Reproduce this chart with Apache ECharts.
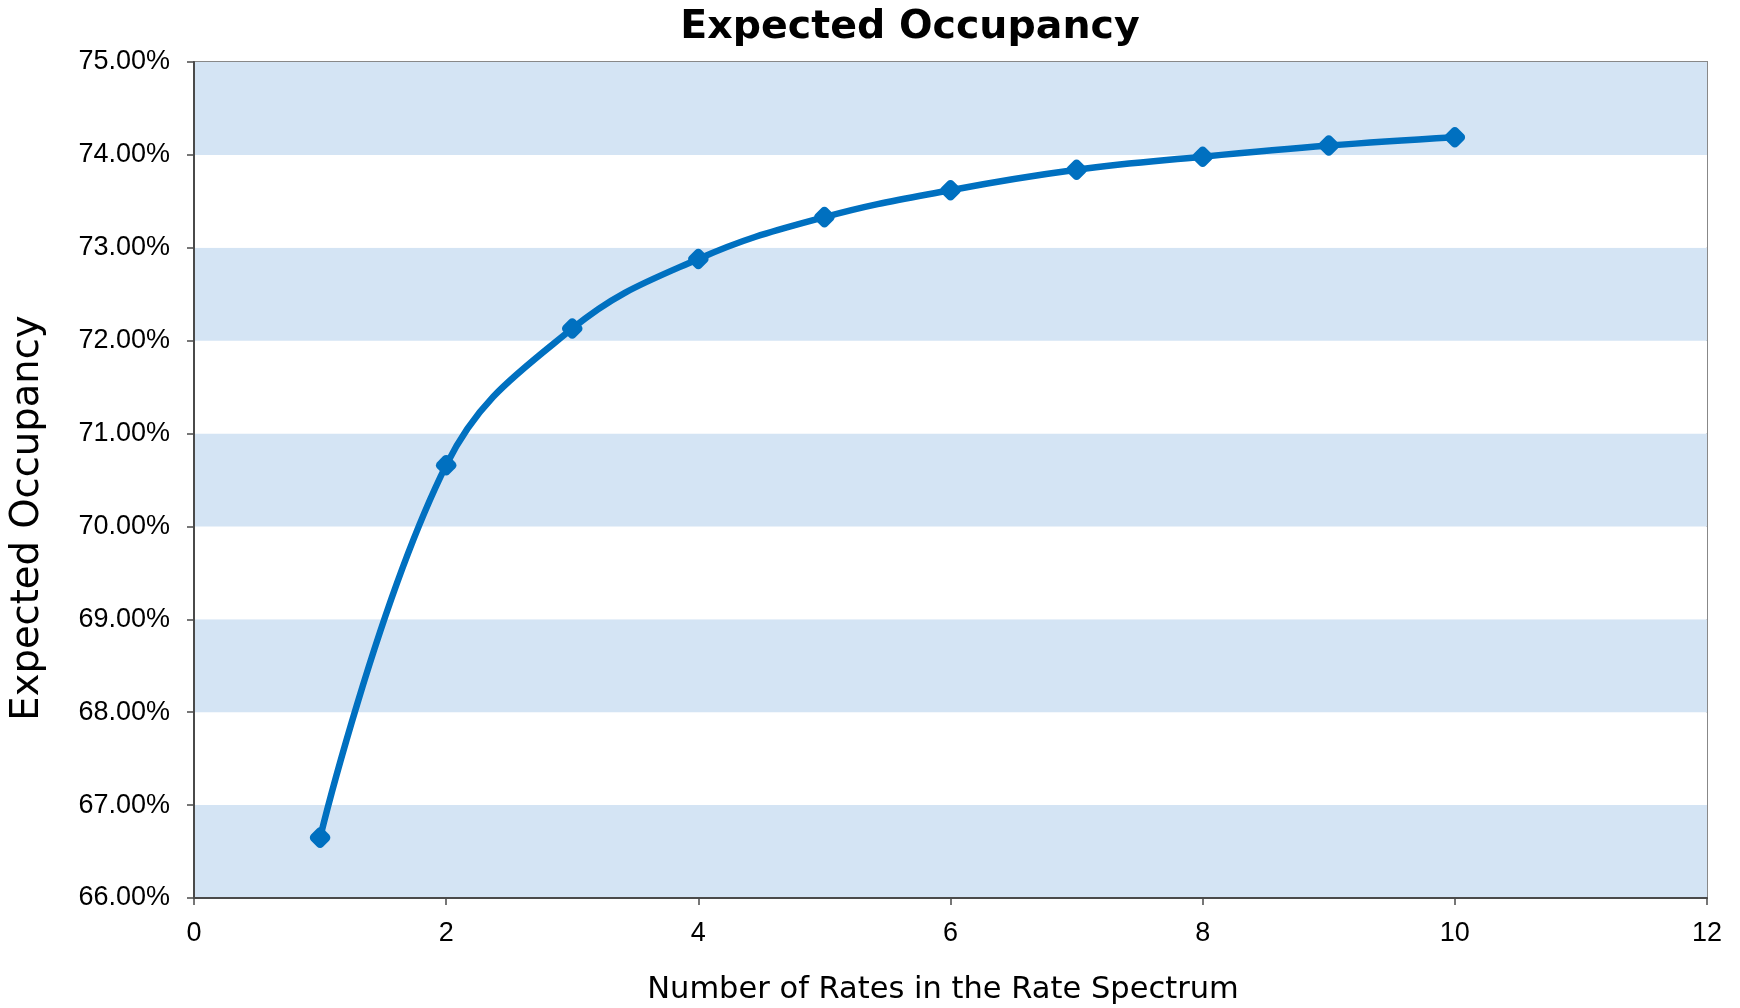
<!DOCTYPE html>
<html>
<head>
<meta charset="utf-8">
<title>Expected Occupancy</title>
<script src="https://cdn.jsdelivr.net/npm/echarts@6/dist/echarts.min.js"></script>
<style>
  html, body { margin: 0; padding: 0; background: #ffffff; }
  #chart { width: 1740px; height: 1008px; }
</style>
</head>
<body>
<div id="chart"></div>
<script>
// Number of rates offered in the rate spectrum
const rateCounts = [1, 2, 3, 4, 5, 6, 7, 8, 9, 10];
// Expected occupancy, in percent
const occupancy = [66.65, 70.66, 72.13, 72.88, 73.33, 73.62, 73.84, 73.98, 74.10, 74.19];

const chartTitle = 'Expected Occupancy';
const xTitle = 'Number of Rates in the Rate Spectrum';
const yTitle = 'Expected Occupancy';

const titleFont = '"DejaVu Sans", Lato, sans-serif';
const tickFont = '"Liberation Sans", Arial, sans-serif';

const chart = echarts.init(document.getElementById('chart'), null, { renderer: 'canvas' });

chart.setOption({
  animation: false,
  backgroundColor: '#ffffff',
  grid: {
    left: 194, right: 33, top: 62, bottom: 110,
    show: true,
    borderColor: '#888888',
    borderWidth: 2,
    backgroundColor: '#ffffff'
  },
  graphic: [
    {
      type: 'text',
      x: 910, y: 28,
      style: {
        text: chartTitle,
        font: 'bold 39.5px ' + titleFont,
        fill: '#000000',
        textAlign: 'center',
        textVerticalAlign: 'middle'
      }
    },
    {
      type: 'text',
      x: 943, y: 990,
      style: {
        text: xTitle,
        font: '30.5px ' + titleFont,
        fill: '#000000',
        textAlign: 'center',
        textVerticalAlign: 'middle'
      }
    },
    {
      type: 'text',
      x: 28, y: 518,
      rotation: Math.PI / 2,
      style: {
        text: yTitle,
        font: '38.5px ' + titleFont,
        fill: '#000000',
        textAlign: 'center',
        textVerticalAlign: 'middle'
      }
    }
  ],
  xAxis: {
    type: 'value',
    min: 0, max: 12, interval: 2,
    axisLine: { show: true, onZero: false, lineStyle: { color: '#4a4a4a', width: 2 } },
    axisTick: { show: true, length: 7, lineStyle: { color: '#4a4a4a', width: 1.5 } },
    splitLine: { show: false },
    axisLabel: { fontFamily: tickFont, fontSize: 27, color: '#000000', margin: 22 }
  },
  yAxis: {
    type: 'value',
    min: 66, max: 75, interval: 1,
    axisLine: { show: true, lineStyle: { color: '#4a4a4a', width: 2 } },
    axisTick: { show: true, length: 7, lineStyle: { color: '#4a4a4a', width: 1.5 } },
    splitLine: { show: false },
    splitArea: { show: true, areaStyle: { color: ['#d4e4f4', '#ffffff'] } },
    axisLabel: {
      fontFamily: tickFont, fontSize: 27, color: '#000000', margin: 24,
      formatter: function (v) { return v.toFixed(2) + '%'; }
    }
  },
  series: [{
    type: 'line',
    data: rateCounts.map(function (x, i) { return [x, occupancy[i]]; }),
    smooth: 0.4,
    symbol: 'roundRect',
    symbolRotate: 45,
    symbolSize: 17,
    showAllSymbol: true,
    lineStyle: { color: '#0070c0', width: 6.5 },
    itemStyle: { color: '#0070c0' }
  }]
});
</script>
</body>
</html>
